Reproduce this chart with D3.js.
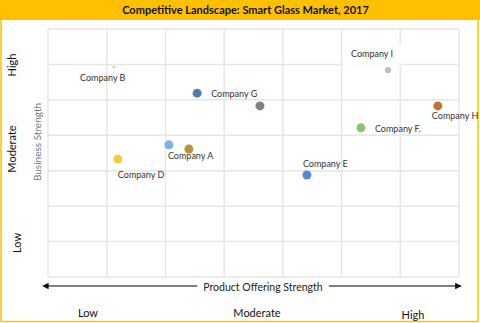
<!DOCTYPE html>
<html><head><meta charset="utf-8">
<script src="https://cdn.jsdelivr.net/npm/d3@7/dist/d3.min.js"></script>
<style>body{margin:0;background:#fff}svg{display:block}</style>
</head><body>
<svg id="c" width="480" height="323"></svg>
<script>
const title = "Competitive Landscape: Smart Glass Market, 2017";
const companies = ["Company B","Company D","Company C","Company A","Company G","Company J","Company E","Company F.","Company I","Company H"];
const labels = ["Company B","Company D","","Company A","Company G","","Company E","Company F.","Company I","Company H"];
const productStrength = [1.12,1.19,2.06,2.40,2.54,3.61,4.41,5.33,5.79,6.64];
const businessStrength = [5.93,3.33,3.73,3.61,5.19,4.83,2.88,4.21,5.84,4.83];
const colors = ["#f4a04a","#ffc93c","#7fb3e6","#b89438","#4f7eae","#808080","#5b86d6","#8cc46c","#bfbfbf","#c0723c"];
const radii = [1,4.5,4.5,4.5,4.5,4.5,4.5,4.5,3.2,4.5];
const levelLabels = ["Low","Moderate","High"];
const xAxisTitle = "Product Offering Strength";
const yAxisTitle = "Business Strength";
const gridTicks = [0,1,2,3,4,5,6,7];
// label layout offsets [dx, dy, anchor]
const labelLayout = [[-11,14,"middle"],[0,19,"start"],[0,0,"start"],[-21,10,"start"],[14,4,"start"],[0,0,"start"],[-4,-8,"start"],[14,4,"start"],[-37,-13,"start"],[-6,13,"start"]];

const svg = d3.select("#c");
const font = "Lato, 'Open Sans', sans-serif";
const x = d3.scaleLinear().domain([0,7]).range([48,459]);
const y = d3.scaleLinear().domain([0,7]).range([277,29]);

// title bar
svg.append("rect").attr("x",0).attr("y",0).attr("width",480).attr("height",19.5).attr("fill","#FFC000");
svg.append("line").attr("x1",1).attr("x2",478).attr("y1",19.5).attr("y2",19.5).attr("stroke","#b3bfd0").attr("stroke-width",1);
svg.append("text").attr("x",245.5).attr("y",14).attr("text-anchor","middle")
  .attr("font-family",font).attr("font-weight","bold").attr("font-size",11).attr("fill","#111").text(title);
// outer border
svg.append("rect").attr("x",1).attr("y",1).attr("width",477).attr("height",320.5)
  .attr("fill","none").attr("stroke","#FFC000").attr("stroke-width",1.5);

// grid
const g = svg.append("g");
g.selectAll("line.v").data(gridTicks).join("line").attr("class","v")
  .attr("x1",d=>x(d)).attr("x2",d=>x(d)).attr("y1",y(7)).attr("y2",y(0))
  .attr("stroke","#e6e6e6").attr("stroke-width",1.5);
g.selectAll("line.h").data(gridTicks).join("line").attr("class","h")
  .attr("y1",d=>y(d)).attr("y2",d=>y(d)).attr("x1",x(0)).attr("x2",x(7))
  .attr("stroke","#e6e6e6").attr("stroke-width",1.5);

// x-axis arrow
const defs = svg.append("defs");
["s","e"].forEach(k=>{
  defs.append("marker").attr("id","arr"+k).attr("viewBox","0 0 10 10").attr("refX",k==="e"?9:1).attr("refY",5)
    .attr("markerWidth",5).attr("markerHeight",5).attr("orient","auto-start-reverse")
    .append("path").attr("d","M0,0L10,5L0,10z").attr("fill","#111");
});
svg.append("line").attr("x1",x(0)).attr("x2",x(7)+2).attr("y1",286).attr("y2",286)
  .attr("stroke","#555").attr("stroke-width",1.3)
  .attr("marker-start","url(#arrs)").attr("marker-end","url(#arre)");
const xt = svg.append("text").attr("x",263).attr("y",290.5).attr("text-anchor","middle")
  .attr("font-family",font).attr("font-size",10.5).attr("fill","#222").text(xAxisTitle);
const bb = xt.node().getBBox();
svg.insert("rect","text:last-of-type").attr("x",bb.x-6).attr("y",bb.y).attr("width",bb.width+12).attr("height",bb.height).attr("fill","#fff");
xt.raise();

// x level labels
const xLevelPos = [88,257,413];
svg.selectAll("text.xl").data(levelLabels).join("text").attr("class","xl")
  .attr("x",(d,i)=>xLevelPos[i]).attr("y",(d,i)=>i===2?319:317).attr("text-anchor","middle")
  .attr("font-family",font).attr("font-size",11).attr("fill","#111").text(d=>d);

// y level labels
const yLevelPos = [[17,243],[12,149],[12,65]];
svg.selectAll("text.yl").data(levelLabels).join("text").attr("class","yl")
  .attr("transform",(d,i)=>`translate(${yLevelPos[i][0]+4},${yLevelPos[i][1]}) rotate(-90)`)
  .attr("text-anchor","middle").attr("font-family",font).attr("font-size",11).attr("fill","#111").text(d=>d);
svg.append("text").attr("transform","translate(41,142) rotate(-90)").attr("text-anchor","middle")
  .attr("font-family",font).attr("font-size",10).attr("fill","#777").text(yAxisTitle);

// points
const data = companies.map((c,i)=>({c, label:labels[i], px:productStrength[i], py:businessStrength[i], col:colors[i], r:radii[i], lay:labelLayout[i]}));
svg.selectAll("circle.p").data(data).join("circle").attr("class","p")
  .attr("cx",d=>x(d.px)).attr("cy",d=>y(d.py)).attr("r",d=>d.r).attr("fill",d=>d.col);
const lbls = svg.selectAll("text.lb").data(data.filter(d=>d.label)).join("text").attr("class","lb")
  .attr("x",d=>x(d.px)+d.lay[0]).attr("y",d=>y(d.py)+d.lay[1]).attr("text-anchor",d=>d.lay[2])
  .attr("font-family",font).attr("font-size",9).attr("fill","#333").text(d=>d.label);
lbls.filter(d=>d.label==="Company I").each(function(){
  const b = this.getBBox();
  svg.insert("rect","circle").attr("x",b.x-8).attr("y",b.y-4).attr("width",b.width+16).attr("height",b.height+10).attr("fill","#fff");
});
</script>
</body></html>
